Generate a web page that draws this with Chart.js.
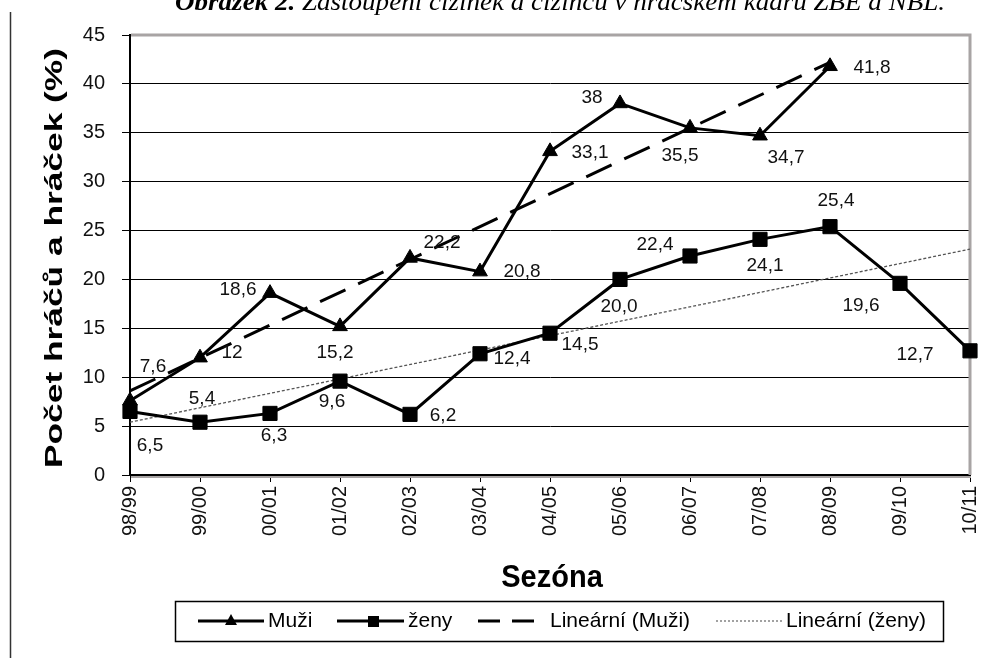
<!DOCTYPE html>
<html>
<head>
<meta charset="utf-8">
<script src="https://cdn.jsdelivr.net/npm/chart.js@4.4.0/dist/chart.umd.min.js"></script>
<style>
html, body { margin: 0; padding: 0; background: #fff; overflow: hidden; }
</style>
</head>
<body>
<canvas id="graf" width="981" height="658"></canvas>
<script>
// data
const sezony = ['98/99', '99/00', '00/01', '01/02', '02/03', '03/04', '04/05',
                '05/06', '06/07', '07/08', '08/09', '09/10', '10/11'];
const muzi = [7.6, 12, 18.6, 15.2, 22.2, 20.8, 33.1, 38, 35.5, 34.7, 41.8, null, null];
const zeny = [6.5, 5.4, 6.3, 9.6, 6.2, 12.4, 14.5, 20.0, 22.4, 24.1, 25.4, 19.6, 12.7];
// lineární trendy - jen koncové body
const trendMuzi = [8.6, null, null, null, null, null, null, null, null, null, 42.2, null, null];
const trendZeny = [5.4, null, null, null, null, null, null, null, null, null, null, null, 23.1];
const osaY = [0, 5, 10, 15, 20, 25, 30, 35, 40, 45];

// kam posunout popisky hodnot vůči bodu [dx, dy]
const posunMuzi = [[23, -34], [32, -5], [-32, -3], [-5, 26], [32, -15], [42, 0],
                   [40, 1], [-28, -6], [-10, 28], [26, 22], [42, 1]];
const posunZeny = [[20, 34], [2, -23], [4, 22], [-8, 21], [33, 1], [32, 5], [30, 12],
                   [-1, 27], [-35, -11], [5, 26], [6, -26], [-39, 22], [-55, 4]];

const PISMO = '"Liberation Sans", Arial, sans-serif';

function popisek(v, desetiny) {
    return (desetiny ? v.toFixed(1) : String(v)).replace('.', ',');
}

const kresleni = {
    id: 'kresleni',
    beforeDraw(chart) {
        const c = chart.ctx;
        c.save();
        c.fillStyle = '#fff';
        c.fillRect(0, 0, chart.width, chart.height);
        c.restore();
    },
    beforeDatasetsDraw(chart) {
        // šedý rámeček plochy grafu (nahoře a vpravo, dole stín)
        const a = chart.chartArea;
        const c = chart.ctx;
        c.save();
        c.strokeStyle = '#a8a4a4';
        c.lineWidth = 3;
        c.beginPath();
        c.moveTo(a.left + 1, a.top);
        c.lineTo(a.right, a.top);
        c.lineTo(a.right, a.bottom);
        c.stroke();
        c.lineWidth = 2;
        c.beginPath();
        c.moveTo(a.left + 1, a.bottom + 2);
        c.lineTo(a.right + 1, a.bottom + 2);
        c.stroke();
        c.restore();
    },
    afterDatasetsDraw(chart) {
        const c = chart.ctx;
        c.save();
        c.font = '19px ' + PISMO;
        c.fillStyle = '#111';
        c.textAlign = 'center';
        c.textBaseline = 'middle';
        const m0 = chart.getDatasetMeta(0).data;
        muzi.forEach((v, i) => {
            if (v === null) return;
            const p = m0[i];
            c.fillText(popisek(v, false), p.x + posunMuzi[i][0], p.y + posunMuzi[i][1]);
        });
        const m1 = chart.getDatasetMeta(1).data;
        zeny.forEach((v, i) => {
            const p = m1[i];
            c.fillText(popisek(v, true), p.x + posunZeny[i][0], p.y + posunZeny[i][1]);
        });
        c.restore();
    },
    afterDraw(chart) {
        const c = chart.ctx;
        const a = chart.chartArea;
        c.save();

        // svislá čára okraje stránky
        c.strokeStyle = '#333';
        c.lineWidth = 1.5;
        c.beginPath();
        c.moveTo(10.5, 12);
        c.lineTo(10.5, chart.height);
        c.stroke();

        // titulek obrázku (oříznutý nahoře)
        c.fillStyle = '#000';
        c.textBaseline = 'alphabetic';
        c.textAlign = 'left';
        const f1 = 'italic bold 26px "Liberation Serif", "Times New Roman", serif';
        const f2 = 'italic 26px "Liberation Serif", "Times New Roman", serif';
        const t1 = 'Obrázek 2.';
        const t2 = ' Zastoupení cizinek a cizinců v hráčském kádru ZBE a NBL.';
        c.font = f1; const w1 = c.measureText(t1).width;
        c.font = f2; const w2 = c.measureText(t2).width;
        const sx = 770 / (w1 + w2);
        c.save();
        c.translate(175, 10);
        c.scale(sx, 1);
        c.font = f1; c.fillText(t1, 0, 0);
        c.font = f2; c.fillText(t2, w1, 0);
        c.restore();

        // název osy Y
        c.save();
        c.font = 'bold 23px ' + PISMO;
        const ty = 'Počet hráčů a hráček (%)';
        const wy = c.measureText(ty).width;
        c.translate(56, 258);
        c.rotate(-Math.PI / 2);
        c.scale(420 / wy, 1);
        c.textAlign = 'center';
        c.textBaseline = 'middle';
        c.fillText(ty, 0, 0);
        c.restore();

        // název osy X
        c.save();
        c.font = 'bold 29px ' + PISMO;
        c.textAlign = 'center';
        c.textBaseline = 'middle';
        c.translate(552, 578);
        c.scale(1, 1.08);
        c.fillText('Sezóna', 0, 0);
        c.restore();

        // legenda
        const lx = 175, ly = 601, lw = 768, lh = 40;
        const sy = ly + lh / 2;
        c.strokeStyle = '#000';
        c.lineWidth = 1.5;
        c.strokeRect(lx + 0.5, ly + 0.5, lw, lh);
        c.font = '21px ' + PISMO;
        c.textBaseline = 'middle';
        c.textAlign = 'left';
        c.fillStyle = '#000';

        c.lineWidth = 3;
        c.beginPath(); c.moveTo(198, sy); c.lineTo(264, sy); c.stroke();
        c.beginPath();
        c.moveTo(231, sy - 7); c.lineTo(237, sy + 4); c.lineTo(225, sy + 4); c.closePath(); c.fill();
        c.fillText('Muži', 268, sy);

        c.beginPath(); c.moveTo(337, sy); c.lineTo(404, sy); c.stroke();
        c.fillRect(368, sy - 5, 11, 11);
        c.fillText('ženy', 408, sy);

        c.setLineDash([22, 12]);
        c.beginPath(); c.moveTo(478, sy); c.lineTo(536, sy); c.stroke();
        c.setLineDash([]);
        c.fillText('Lineární (Muži)', 550, sy);

        c.strokeStyle = '#444';
        c.lineWidth = 1.2;
        c.setLineDash([2, 2]);
        c.beginPath(); c.moveTo(716, sy); c.lineTo(783, sy); c.stroke();
        c.setLineDash([]);
        c.fillText('Lineární (ženy)', 786, sy);

        c.restore();
    }
};

new Chart(document.getElementById('graf'), {
    type: 'line',
    data: {
        labels: sezony,
        datasets: [
            {
                label: 'Muži',
                data: muzi,
                borderColor: '#000',
                backgroundColor: '#000',
                borderWidth: 3,
                pointStyle: 'triangle',
                pointRadius: 8.5,
                pointBorderWidth: 1,
                tension: 0,
                clip: false
            },
            {
                label: 'ženy',
                data: zeny,
                borderColor: '#000',
                backgroundColor: '#000',
                borderWidth: 3,
                pointStyle: 'rect',
                pointRadius: 10,
                pointBorderWidth: 1,
                tension: 0,
                clip: false
            },
            {
                label: 'Lineární (Muži)',
                data: trendMuzi,
                borderColor: '#000',
                borderWidth: 3,
                borderDash: [28, 14],
                pointRadius: 0,
                spanGaps: true,
                clip: false
            },
            {
                label: 'Lineární (ženy)',
                data: trendZeny,
                borderColor: '#555',
                borderWidth: 1.3,
                borderDash: [3, 2],
                pointRadius: 0,
                spanGaps: true,
                clip: false
            }
        ]
    },
    options: {
        responsive: false,
        animation: false,
        devicePixelRatio: 1,
        layout: {
            autoPadding: false,
            padding: { left: 0, right: 11, top: 35, bottom: 0 }
        },
        plugins: {
            legend: { display: false },
            tooltip: { enabled: false },
            title: { display: false }
        },
        scales: {
            x: {
                type: 'category',
                offset: false,
                grid: {
                    display: true,
                    drawOnChartArea: false,
                    drawTicks: true,
                    tickLength: 7,
                    color: '#000',
                    lineWidth: 1
                },
                border: { color: '#000', width: 2 },
                ticks: {
                    minRotation: 90,
                    maxRotation: 90,
                    autoSkip: false,
                    padding: 4,
                    color: '#111',
                    font: { family: PISMO, size: 20 }
                },
                afterFit(s) {
                    s.height = 183;
                    s.paddingLeft = 0;
                    s.paddingRight = 0;
                }
            },
            y: {
                min: 0,
                max: 45,
                grid: {
                    color: '#000',
                    lineWidth: 1,
                    tickLength: 8
                },
                border: { color: '#000', width: 2 },
                ticks: {
                    padding: 17,
                    color: '#111',
                    font: { family: PISMO, size: 20 }
                },
                afterBuildTicks(s) { s.ticks = osaY.map(v => ({ value: v })); },
                afterFit(s) {
                    s.width = 130;
                    s.paddingTop = 0;
                    s.paddingBottom = 0;
                }
            }
        }
    },
    plugins: [kresleni]
});
</script>
</body>
</html>
